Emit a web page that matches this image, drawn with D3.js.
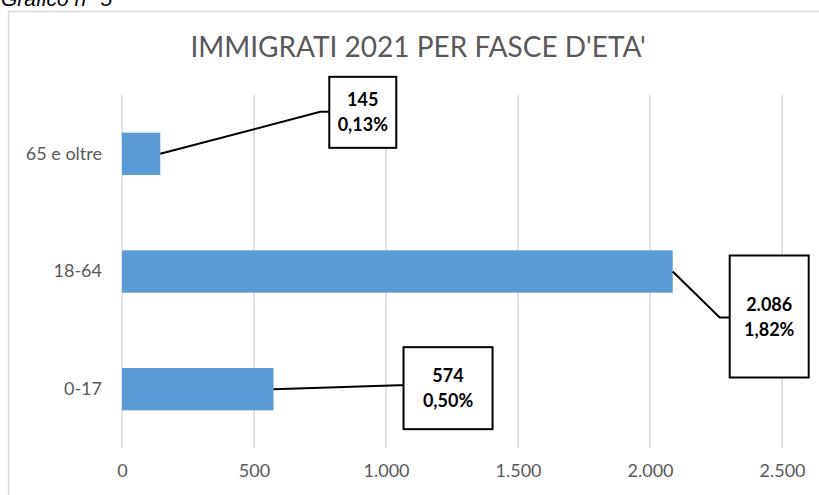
<!DOCTYPE html>
<html>
<head>
<meta charset="utf-8">
<script src="https://cdn.jsdelivr.net/npm/d3@7"></script>
<style>
  body { margin: 0; background: #fff; }
  svg text { font-family: Lato, "Open Sans", sans-serif; }
</style>
</head>
<body>
<div id="chart"></div>
<script>
// DATA
var categories = ["65 e oltre", "18-64", "0-17"];
var values = [145, 2086, 574];
var percentLabels = ["0,13%", "1,82%", "0,50%"];
var valueLabels = ["145", "2.086", "574"];
var xTicks = [0, 500, 1000, 1500, 2000, 2500];

// label boxes placement (offset from bar end, in px)
var boxes = [
    { dx: 169, dy: -77, w: 67, h: 71, elbow: [160, -42] },
    { dx: 57, dy: -16, w: 79, h: 122, elbow: [47, 46] },
    { dx: 130, dy: -42, w: 89, h: 82, elbow: [125, -4] }
];

var svgWidth = 819, svgHeight = 495;
var margin = { top: 95, right: 37, bottom: 47, left: 122 };
var width = svgWidth - margin.left - margin.right;
var height = svgHeight - margin.top - margin.bottom;

var svg = d3.select("#chart").append("svg")
    .attr("width", svgWidth)
    .attr("height", svgHeight);

// caption above the chart (cut off at the top in the original too)
svg.append("text")
    .attr("x", 1)
    .attr("y", 6)
    .style("font-family", "'Liberation Sans', Arial, sans-serif")
    .style("font-style", "italic")
    .attr("font-size", 21)
    .attr("fill", "#000")
    .text("Grafico n° 5");

// chart area border
svg.append("rect")
    .attr("x", 8.5)
    .attr("y", 11.5)
    .attr("width", svgWidth)
    .attr("height", svgHeight)
    .attr("fill", "none")
    .attr("stroke", "#d9d9d9")
    .attr("stroke-width", 1.5);

// title
svg.append("text")
    .attr("x", 418)
    .attr("y", 57)
    .attr("text-anchor", "middle")
    .attr("font-size", 28)
    .attr("fill", "#595959")
    .text("IMMIGRATI 2021 PER FASCE D'ETA'");

var chartGroup = svg.append("g")
    .attr("transform", `translate(${margin.left}, ${margin.top})`);

// scales
var x = d3.scaleLinear().domain([0, 2500]).range([0, 660]);
var y = d3.scaleBand().domain(categories).range([0, height])
    .paddingInner(0.64).paddingOuter(0.32);

// gridlines
chartGroup.selectAll(".grid")
    .data(xTicks)
    .enter().append("line")
    .attr("x1", d => x(d)).attr("x2", d => x(d))
    .attr("y1", 0).attr("y2", height)
    .attr("stroke", "#d9d9d9")
    .attr("stroke-width", 1.5);

// x axis
var xAxis = chartGroup.append("g")
    .attr("transform", `translate(0, ${height})`)
    .call(d3.axisBottom(x).tickValues(xTicks).tickSize(0).tickPadding(16)
        .tickFormat(d => d3.format(",")(d).replace(/,/g, ".")));
xAxis.select(".domain").remove();
xAxis.selectAll("text")
    .attr("font-size", 18)
    .attr("fill", "#595959")
    .style("font-family", "Lato, sans-serif");

// y axis
var yAxis = chartGroup.append("g")
    .call(d3.axisLeft(y).tickSize(0).tickPadding(20));
yAxis.select(".domain").remove();
yAxis.selectAll("text")
    .attr("font-size", 18)
    .attr("fill", "#595959")
    .style("font-family", "Lato, sans-serif");

// bars
chartGroup.selectAll(".bar")
    .data(values)
    .enter().append("rect")
    .attr("x", 0)
    .attr("y", (d, i) => y(categories[i]))
    .attr("width", d => x(d))
    .attr("height", y.bandwidth())
    .attr("fill", "#5b9bd5");

// data labels with leader lines
values.forEach(function (v, i) {
    var bx = x(v);
    var by = y(categories[i]) + y.bandwidth() / 2;
    var b = boxes[i];
    var left = bx + b.dx, top = by + b.dy;
    var anchorY = by + b.elbow[1];

    chartGroup.append("polyline")
        .attr("points", [[bx, by], [bx + b.elbow[0], anchorY], [left, anchorY]].map(p => p.join(",")).join(" "))
        .attr("fill", "none")
        .attr("stroke", "#000")
        .attr("stroke-width", 2);

    chartGroup.append("rect")
        .attr("x", left).attr("y", top)
        .attr("width", b.w).attr("height", b.h)
        .attr("fill", "#fff")
        .attr("stroke", "#000")
        .attr("stroke-width", 2);

    var cx = left + b.w / 2, cy = top + b.h / 2;
    chartGroup.append("text")
        .attr("x", cx).attr("y", cy - 6)
        .attr("text-anchor", "middle")
        .attr("font-size", 18)
        .attr("font-weight", "bold")
        .attr("fill", "#000")
        .text(valueLabels[i]);
    chartGroup.append("text")
        .attr("x", cx).attr("y", cy + 19)
        .attr("text-anchor", "middle")
        .attr("font-size", 18)
        .attr("font-weight", "bold")
        .attr("fill", "#000")
        .text(percentLabels[i]);
});
</script>
</body>
</html>
